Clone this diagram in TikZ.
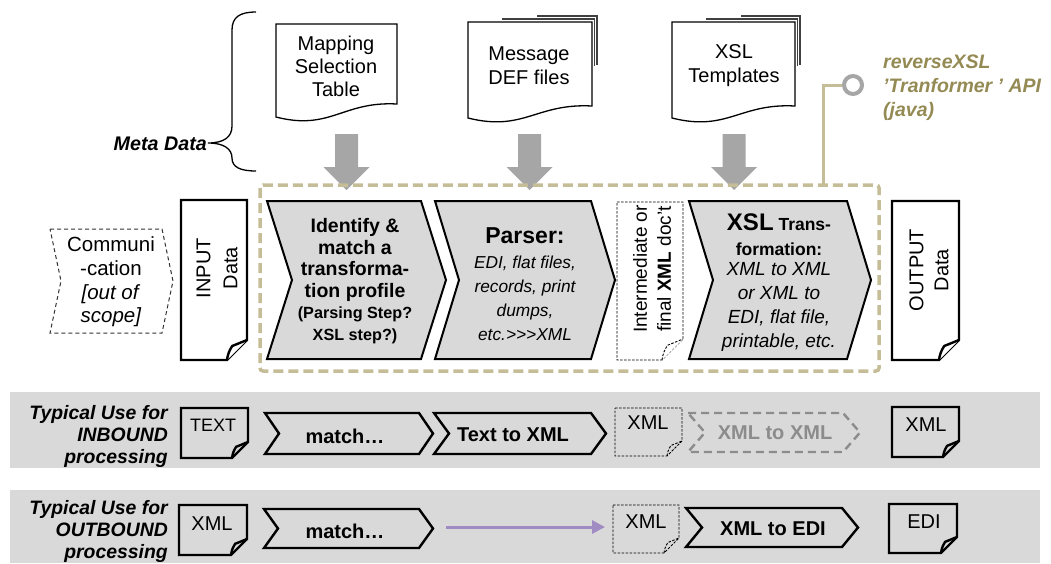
\documentclass[tikz,border=0pt]{standalone}
\usepackage{fontspec}
\setmainfont{Liberation Sans}
\usetikzlibrary{arrows.meta}
\definecolor{chevgray}{HTML}{D9D9D9}
\definecolor{bandgray}{HTML}{D9D9D9}
\definecolor{arrgray}{HTML}{A6A6A6}
\definecolor{tanline}{HTML}{C4BD97}
\definecolor{olivetext}{HTML}{948A54}
\definecolor{lav}{RGB}{160,140,195}
\definecolor{dimgraytext}{HTML}{8C8C8C}
\newcommand\fs[2]{\fontsize{#1}{#2}\selectfont}
% chevron: name, style, left, top, right, bottom, depth
\newcommand\chev[7]{%
  \draw[#2] (#3,#4) -- (#5,#4) -- ({#5+#7},{(#4+#6)/2}) -- (#5,#6) -- (#3,#6) -- ({#3+#7},{(#4+#6)/2}) -- cycle;
  \coordinate (#1-w) at ({#3+#7},{(#4+#6)/2});
  \coordinate (#1-e) at ({#5+#7},{(#4+#6)/2});}
% folded doc: name, style, left, top, right, bottom, fold
\newcommand\fdoc[7]{%
  \draw[#2] (#3,#4) -- (#5,#4) -- (#5,{#6-#7}) -- ({#5-#7},#6) -- (#3,#6) -- cycle;
  \draw[#2] ({#5-#7},#6) to[bend left=12] ({#5-0.74*#7},{#6-0.7*#7}) -- (#5,{#6-#7});
  \coordinate (#1-w) at (#3,{(#4+#6)/2});
  \coordinate (#1-e) at (#5,{(#4+#6)/2});}
% wavy doc: name, left, top, right, bottom-left, bottom-right
\newcommand\wdoc[6]{%
  \draw[docline, fill=white] (#2,#5) -- (#2,#3) -- (#4,#3) -- (#4,#6) .. controls ({#4-0.45*(#4-#2)},{#6-3}) and ({#2+0.45*(#4-#2)},{#5+14}) .. (#2,#5) -- cycle;
  \coordinate (#1-s) at ({(#2+#4)/2},#5);}
\newcommand\bigarr[2]{%
  \fill[arrgray] ({#2-11.5},134) -- ({#2+11.5},134) -- ({#2+11.5},167) -- ({#2+23},167) -- (#2,190) -- ({#2-23},167) -- ({#2-11.5},167) -- cycle;
  \coordinate (#1) at (#2,190);}
\begin{document}
\begin{tikzpicture}[x=1pt,y=-1pt,
  docline/.style={line width=1.3pt, black},
  backline/.style={line width=1.2pt, black!75},
  foldline/.style={line width=2.4pt, black, line join=miter},
  dfold/.style={line width=0.9pt, black, dash pattern=on 2.5pt off 1.5pt},
  mainchev/.style={line width=2pt, black, fill=chevgray, line join=miter},
  bandchev/.style={line width=2.4pt, black, line join=miter},
  graychev/.style={line width=2.4pt, dimgraytext, dash pattern=on 8pt off 5pt},
  commchev/.style={line width=1pt, black!80, dash pattern=on 4pt off 3pt},
  lbl/.style={align=center, inner sep=0pt},
  bandlbl/.style={anchor=east, align=right, inner sep=0pt, font=\fs{19.4}{22}\bfseries\itshape},
  bandtxt/.style={inner sep=0pt, font=\fs{20}{22}\bfseries},
  doctxt/.style={inner sep=0pt, font=\fs{20}{22}},
]
\useasboundingbox (0,0) rectangle (1051,563);

% bands
\fill[bandgray] (10,392) rectangle (1040,468);
\fill[bandgray] (10,490) rectangle (1040,563);

% brace and meta data label
\draw[line width=1.3pt] (256,12) .. controls (240,12) and (232,17) .. (232,30) -- (232,126)
  .. controls (232,137) and (224,143) .. (208,143)
  .. controls (224,143) and (232,149) .. (232,158)
  .. controls (232,167) and (240,171) .. (256,171);
\node[anchor=east, inner sep=0pt, font=\fs{19.7}{22}\bfseries\itshape] (meta) at (207,144) {Meta Data};

% top documents
\wdoc{mapdoc}{276}{24}{397}{117}{104}
\node[lbl, font=\fs{20}{23}] (mapt) at (336,66) {Mapping\\Selection\\Table};
\draw[backline] (537,16) -- (597,16) -- (597,65);
\draw[backline] (502,19) -- (594.5,19) -- (594.5,66);
\wdoc{msgdoc}{468}{22}{592}{118}{106}
\node[lbl, font=\fs{20}{24}] (msgt) at (529,66) {Message\\DEF files};
\draw[backline] (741,16) -- (800,16) -- (800,65);
\draw[backline] (706,19) -- (797.5,19) -- (797.5,66);
\wdoc{xsldoc}{672}{22}{795}{118}{106}
\node[lbl, font=\fs{20}{24}] (xslt) at (734,66) {XSL\\Templates};

% big gray arrows
\bigarr{a1}{346.5}
\bigarr{a2}{529.5}
\bigarr{a3}{734}

% dashed tan frame + API
\draw[tanline, line width=3.5pt, dash pattern=on 10pt off 5pt, rounded corners=3pt] (260,185) rectangle (879,371);
\coordinate (frametop) at (823,185);
\node[circle, draw=arrgray, line width=4pt, minimum size=18pt, inner sep=0pt] (api) at (853,85) {};
\draw[tanline, line width=3pt] (frametop) |- (api.west);
\node[anchor=west, align=left, inner sep=0pt, font=\fs{19.5}{24}\bfseries\itshape, text=olivetext] (apil) at (883,88) {reverseXSL\\’Tranformer ’ API\\(java)};

% communication
\chev{comm}{commchev}{50}{229}{162}{333}{11}
\node[lbl, font=\fs{20.5}{23.7}] (commt) at (111,282) {Communi\\-cation\\\textit{[out of}\\\textit{scope]}};

% input / output docs
\fdoc{ind}{foldline, fill=white}{181}{200}{247}{360}{20}
\node[lbl, rotate=90, font=\fs{20}{27}] (inpt) at (217,268) {INPUT\\Data};
\fdoc{outd}{foldline, fill=white}{892}{201}{959}{360}{20}
\node[lbl, rotate=90, font=\fs{20}{25}] (outpt) at (929,270) {OUTPUT\\Data};

% main chevrons
\chev{c1}{mainchev}{267}{201}{421}{359}{25}
\node[lbl, font=\fs{19.5}{21.7}\bfseries] (c1a) at (355,260) {Identify \&\\match a\\transforma-\\tion profile};
\node[lbl, font=\fs{16.2}{22}\bfseries] (c1b) at (355,325) {(Parsing Step?\\XSL step?)};
\chev{c2}{mainchev}{435}{201}{591}{359}{24}
\node[lbl, font=\fs{23}{25}\bfseries] (c2a) at (525,236) {Parser:};
\node[lbl, font=\fs{17.3}{24}\itshape] (c2b) at (525,298) {EDI, flat files,\\records, print\\dumps,\\etc.{>}{>}{>}XML};
\fdoc{interd}{dfold, fill=white}{617}{202}{683}{360}{21}
\node[lbl, rotate=90, font=\fs{19}{24}] (intert) at (652,269) {Intermediate or\\final \textbf{XML} doc't};
\chev{c3}{mainchev}{689}{201}{847}{359}{24}
\node[lbl, font=\fs{17.5}{25}\bfseries] (c3a) at (779,235) {{\fs{24}{25}XSL} Trans-\\formation:};
\node[lbl, font=\fs{19}{24}\itshape] (c3b) at (779,307) {XML to XML\\or XML to\\EDI, flat file,\\printable, etc.};

% inbound band
\node[bandlbl] (inl) at (168,436) {Typical Use for\\INBOUND\\processing};
\fdoc{txtd}{foldline}{181}{408}{248}{458}{16}
\node[inner sep=0pt, font=\fs{18}{20}] (txtt) at (213,425) {TEXT};
\chev{m1}{bandchev}{265}{413}{419}{454}{14}
\node[bandtxt] (m1t) at (345,436) {match…};
\chev{t1}{bandchev}{434}{413}{591}{454}{15}
\node[bandtxt] (t1t) at (513,435) {Text to XML};
\fdoc{x1d}{dfold}{615}{408}{682}{456}{15}
\node[doctxt] (x1t) at (648,423) {XML};
\chev{g1}{graychev}{688}{413}{843}{452}{17}
\node[bandtxt, text=dimgraytext] (g1t) at (775,433) {XML to XML};
\fdoc{x1o}{foldline}{892}{407}{959}{457}{16}
\node[doctxt] (x1ot) at (926,425) {XML};

% outbound band
\node[bandlbl] (outl) at (168,531) {Typical Use for\\OUTBOUND\\processing};
\fdoc{x2i}{foldline}{179}{505}{247}{555}{16}
\node[doctxt] (x2it) at (212,524) {XML};
\chev{m2}{bandchev}{264}{509}{419}{548}{14}
\node[bandtxt] (m2t) at (345,531) {match…};
\fdoc{x2d}{dfold}{613}{505}{679}{553}{15}
\node[doctxt] (x2dt) at (646,522) {XML};
\chev{e2}{bandchev}{686}{508}{842}{547}{16}
\node[bandtxt] (e2t) at (773,529) {XML to EDI};
\fdoc{edid}{foldline}{889}{504}{957}{553}{16}
\node[doctxt] (edit) at (924,522) {EDI};
\coordinate (pa) at (446,527);
\draw[lav, line width=3pt, -{Triangle[length=13pt,width=13pt]}, shorten >=8pt] (pa) -- (pa -| x2d-w);
\end{tikzpicture}
\end{document}
